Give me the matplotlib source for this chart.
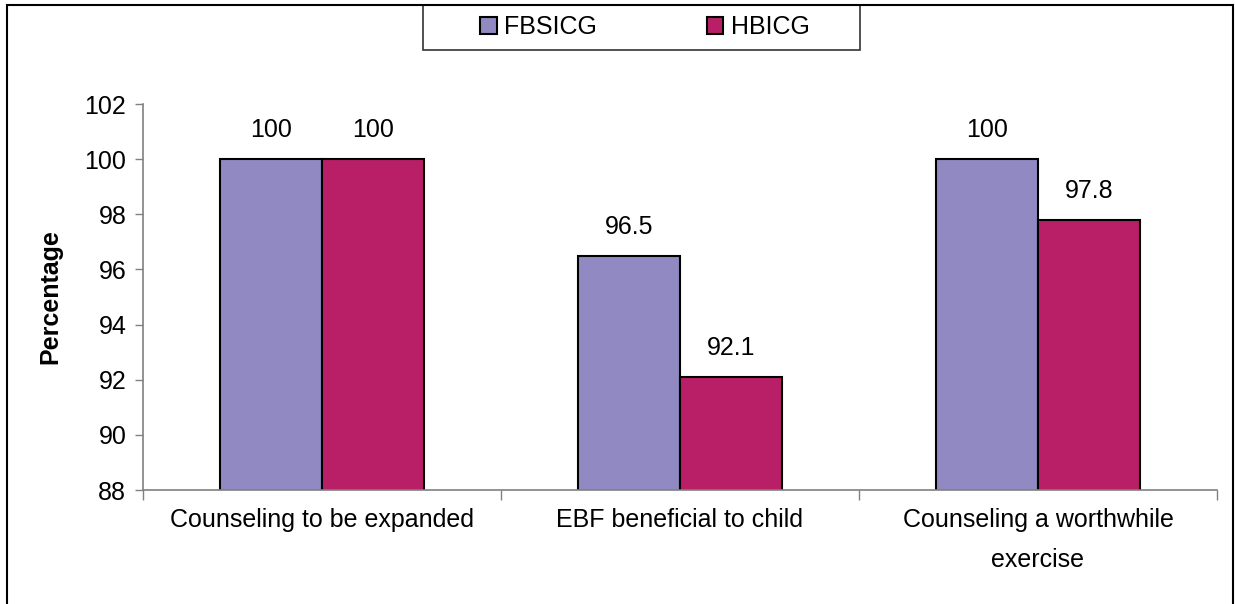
import matplotlib.pyplot as plt
import matplotlib.patches as mpatches
import numpy as np

plt.rcParams['font.family'] = ['Liberation Sans', 'DejaVu Sans']

categories = ['Counseling to be expanded', 'EBF beneficial to child',
              'Counseling a worthwhile\nexercise']
series = ['FBSICG', 'HBICG']
fbsicg = [100, 96.5, 100]
hbicg = [100, 92.1, 97.8]
colors = ['#9189C1', '#B91F66']
yticks = [88, 90, 92, 94, 96, 98, 100, 102]

fs = 18

fig = plt.figure(figsize=(12.35, 6.04), dpi=100)
ax = fig.add_axes([143/1235, 1 - 490/604, (1217 - 143)/1235, (490 - 104)/604])

x = np.arange(len(categories))
w = 0.285
b1 = ax.bar(x - w/2, fbsicg, w, color=colors[0], edgecolor='black', lw=1.5,
            label=series[0])
b2 = ax.bar(x + w/2, hbicg, w, color=colors[1], edgecolor='black', lw=1.5,
            label=series[1])
ax.bar_label(b1, labels=['{:g}'.format(v) for v in fbsicg], padding=12, fontsize=fs)
ax.bar_label(b2, labels=['{:g}'.format(v) for v in hbicg], padding=12, fontsize=fs)

ax.set_ylim(88, 102)
ax.set_xlim(-0.5, 2.5)
ax.set_yticks(yticks)
ax.tick_params(axis='y', labelsize=fs, color='#808080', length=6, width=1, pad=6)
ax.set_xticks(x)
ax.set_xticklabels(categories, fontsize=fs, linespacing=1.85)
ax.tick_params(axis='x', which='major', length=0, pad=13)
ax.set_xticks([-0.5, 0.5, 1.5, 2.5], minor=True)
ax.tick_params(axis='x', which='minor', length=7, color='#808080', width=1)
for s in ['top', 'right']:
    ax.spines[s].set_visible(False)
for s in ['left', 'bottom']:
    ax.spines[s].set_color('#808080')
    ax.spines[s].set_linewidth(1.2)
ax.set_ylabel('Percentage', fontsize=fs, fontweight='bold', labelpad=16)

leg = fig.legend(handles=[b1, b2], loc='center',
                 bbox_to_anchor=(645/1235, 1 - 27/604), ncol=2,
                 fontsize=fs, frameon=False, handlelength=0.65, handleheight=0.65,
                 handletextpad=0.3, columnspacing=4.4, borderaxespad=0)

# legend frame and outer border
fig.patches.append(mpatches.Rectangle((423/1235, 1 - 50/604), (860 - 423)/1235, 45/604,
                                      transform=fig.transFigure, fill=False,
                                      edgecolor='#333333', lw=1.2))
fig.patches.append(mpatches.Rectangle((7/1235, -0.05), (1233 - 7)/1235, 1 - 5/604 + 0.05,
                                      transform=fig.transFigure, fill=False,
                                      edgecolor='black', lw=1.5, clip_on=False))

fig.savefig('out.png', dpi=100)
